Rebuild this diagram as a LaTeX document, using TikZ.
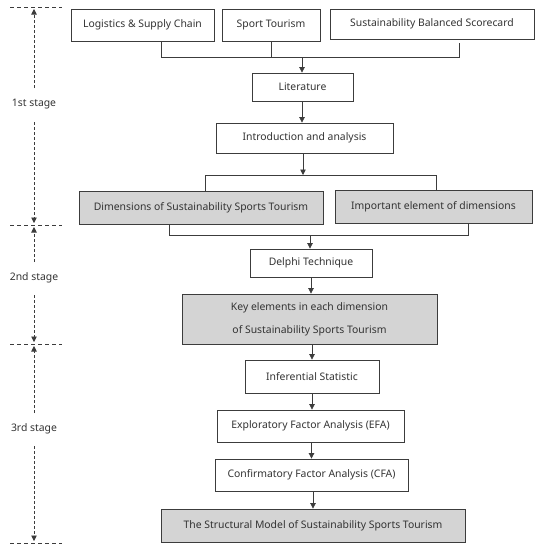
\documentclass[tikz,border=0pt]{standalone}
\usepackage{fontspec}
\setmainfont{Noto Sans}
\usetikzlibrary{arrows.meta}
\definecolor{boxline}{HTML}{3C3C3C}
\definecolor{boxgray}{HTML}{D4D4D4}
\begin{document}
\begin{tikzpicture}[x=1pt,y=-1pt,
  stepbox/.style={draw=boxline, line width=0.8pt, inner sep=0pt, font=\fontsize{10.4}{12}\selectfont, text=black!80, align=center},
  graybox/.style={stepbox, fill=boxgray},
  conn/.style={draw=boxline, line width=0.7pt},
  arr/.style={conn, -{Triangle[length=5.5pt,width=5.5pt]}},
  stagedash/.style={draw=boxline, line width=0.7pt, dash pattern=on 4pt off 3pt},
  stagearr/.style={draw=boxline, line width=0.7pt, dash pattern=on 3pt off 2pt, -{Triangle[length=5.5pt,width=5.5pt]}},
  stagelbl/.style={font=\fontsize{10.4}{12}\selectfont, text=black!80, inner sep=1pt}]
\useasboundingbox (0,0) rectangle (536,550);
% boxes
\node[stepbox, minimum width=143pt, minimum height=32pt] (log) at (142.5,25) {Logistics \& Supply Chain};
\node[stepbox, minimum width=98pt, minimum height=32pt] (spt) at (271,25) {Sport Tourism};
\node[stepbox, minimum width=204pt, minimum height=30pt] (sbsc) at (432,24) {Sustainability Balanced Scorecard};
\node[stepbox, minimum width=101pt, minimum height=28pt] (lit) at (302.5,87) {Literature};
\node[stepbox, minimum width=177pt, minimum height=30pt] (intro) at (304.5,138) {Introduction and analysis};
\node[graybox, minimum width=244pt, minimum height=33pt] (dims) at (201,207.5) {Dimensions of Sustainability Sports Tourism};
\node[graybox, minimum width=197pt, minimum height=33pt] (imp) at (433.5,206.5) {Important element of dimensions};
\node[stepbox, minimum width=122pt, minimum height=28pt] (delphi) at (311,263) {Delphi Technique};
\node[graybox, minimum width=255pt, minimum height=50pt, font=\fontsize{10.4}{23}\selectfont] (key) at (309.5,319) {Key elements in each dimension\\of Sustainability Sports Tourism};
\node[stepbox, minimum width=134pt, minimum height=33pt] (inf) at (312,376.5) {Inferential Statistic};
\node[stepbox, minimum width=187pt, minimum height=32pt] (efa) at (310.5,426) {Exploratory Factor Analysis (EFA)};
\node[stepbox, minimum width=193pt, minimum height=32pt] (cfa) at (311.5,475) {Confirmatory Factor Analysis (CFA)};
\node[graybox, minimum width=304pt, minimum height=33pt] (str) at (313,525.5) {The Structural Model of Sustainability Sports Tourism};
% bracket 1
\coordinate (b1l) at (161,57);
\coordinate (b1m) at (302,57);
\coordinate (b1r) at (459,57);
\coordinate (b1rt) at (459,43);
\draw[conn] (log.south -| b1l) -- (b1l) -- (b1r) -- (b1rt);
\draw[conn] (spt.south) -- (spt.south |- b1l);
\draw[arr] (b1m) -- (b1m |- lit.north);
\draw[arr] (lit.south -| b1m) -- (b1m |- intro.north);
% bracket 2
\coordinate (b2l) at (205,175);
\coordinate (b2m) at (303,175);
\coordinate (b2r) at (436,175);
\draw[arr] (intro.south -| b2m) -- (b2m);
\draw[conn] (b2l |- dims.north) -- (b2l) -- (b2r) -- (b2r |- imp.north);
% bracket 3
\coordinate (b3l) at (169,235);
\coordinate (b3m) at (310,235);
\coordinate (b3r) at (468,235);
\draw[conn] (b3l |- dims.south) -- (b3l) -- (b3r) -- (b3r |- imp.south);
\draw[arr] (b3m) -- (b3m |- delphi.north);
% chain
\draw[arr] (delphi.south) -- (delphi.south |- key.north);
\draw[arr] (key.south -| inf.north) -- (inf.north);
\draw[arr] (inf.south) -- (inf.south |- efa.north);
\draw[arr] (efa.south -| cfa.north) -- (cfa.north);
\draw[arr] (cfa.south -| str.north) -- (str.north);
% stages
\foreach \yy/\nm in {7/h0,225/h1,344/h2,543/h3}{
  \coordinate (\nm l) at (10,\yy);
  \coordinate (\nm r) at (62,\yy);
  \draw[stagedash] (\nm l) -- (\nm r);
}
\node[stagelbl] (s1) at (34,104) {1st stage};
\node[stagelbl] (s2) at (34,278) {2nd stage};
\node[stagelbl] (s3) at (34,429) {3rd stage};
\coordinate (a1s) at (34,88);  \coordinate (a1e) at (34,9);
\coordinate (a2s) at (34,122); \coordinate (a2e) at (34,223);
\coordinate (a3s) at (34,262); \coordinate (a3e) at (34,227);
\coordinate (a4s) at (34,295); \coordinate (a4e) at (34,342);
\coordinate (a5s) at (34,413); \coordinate (a5e) at (34,346);
\coordinate (a6s) at (34,446); \coordinate (a6e) at (34,541);
\foreach \k in {1,...,6}{\draw[stagearr] (a\k s) -- (a\k e);}
\end{tikzpicture}
\end{document}
